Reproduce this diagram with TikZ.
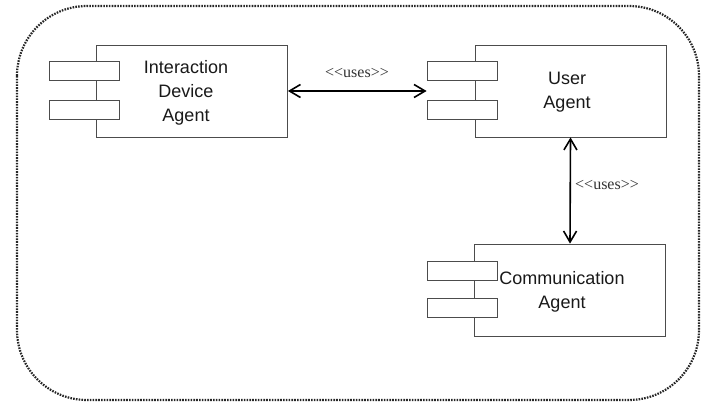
\documentclass[tikz,border=0pt]{standalone}
\usepackage{fontspec}
\setmainfont{Liberation Sans}
\newfontfamily\labelfont{Liberation Serif}
\usetikzlibrary{arrows.meta}
\begin{document}
\begin{tikzpicture}[x=1pt,y=-1pt,
  frame/.style={draw=black!85, line width=2.2pt, dash pattern=on 1.6pt off 1.2pt, rounded corners=70pt},
  compbox/.style={draw=black!70, line width=0.8pt, fill=white, minimum width=191pt, minimum height=92pt, inner sep=0pt},
  portbox/.style={draw=black!70, line width=0.8pt, fill=white, minimum width=70pt, minimum height=19pt, inner sep=0pt},
  compname/.style={font=\fontsize{18}{24}\selectfont, align=center, text=black!90},
  uselink/.style={line width=1.6pt, {Straight Barb[length=11pt,width=13pt]}-{Straight Barb[length=11pt,width=13pt]}},
  uselabel/.style={font=\labelfont\fontsize{16}{18}\selectfont, text=black!80, inner sep=0pt}]
\useasboundingbox (0,0) rectangle (703,406);
\draw[frame] (17,6) rectangle (699,400);
% Interaction Device Agent
\node[compbox] (ida) at (192,91) {};
\node[portbox] (idap1) at (84,71) {};
\node[portbox] (idap2) at (84,110) {};
\node[compname] (idat) at (186,93) {Interaction\\Device\\Agent};
% User Agent
\node[compbox] (ua) at (570.5,91) {};
\node[portbox] (uap1) at (462,71) {};
\node[portbox] (uap2) at (462,110) {};
\node[compname] (uat) at (567,92) {User\\Agent};
% Communication Agent
\node[compbox] (ca) at (570,290) {};
\node[portbox] (cap1) at (462,270.5) {};
\node[portbox] (cap2) at (462,308) {};
\node[compname] (cat) at (562,292) {Communication\\Agent};
% connectors
\draw[uselink] (ida.east |- 0,91) -- (uap1.west |- 0,91);
\node[uselabel] (l1) at (357,73) {<<uses>>};
\draw[uselink] (ua.south) -- (ca.north);
\node[uselabel, anchor=west] (l2) at (575,185) {<<uses>>};
\end{tikzpicture}
\end{document}
